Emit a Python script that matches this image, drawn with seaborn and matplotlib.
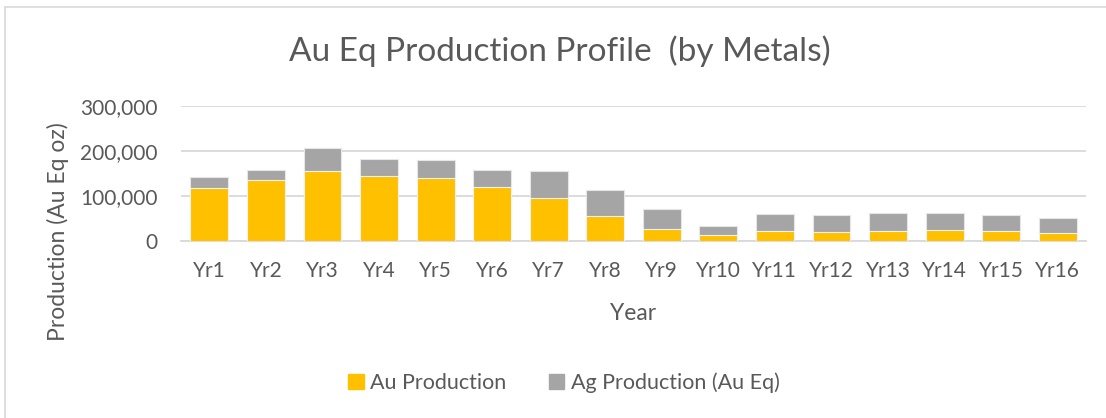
import matplotlib
matplotlib.use("Agg")
import matplotlib.pyplot as plt
import matplotlib.patches as mpatches
from matplotlib.lines import Line2D
from matplotlib.ticker import FuncFormatter
import pandas as pd
import seaborn as sns

# Data
years = ["Yr1", "Yr2", "Yr3", "Yr4", "Yr5", "Yr6", "Yr7", "Yr8",
         "Yr9", "Yr10", "Yr11", "Yr12", "Yr13", "Yr14", "Yr15", "Yr16"]
au_prod = [117500, 136000, 156000, 144000, 140000, 120000, 95000, 57000,
           27000, 14000, 22000, 21000, 23000, 24000, 22000, 18000]
ag_prod = [24500, 22000, 51000, 39000, 40000, 39000, 61000, 57000,
           45000, 20000, 39000, 37000, 39000, 39000, 36000, 33000]

gold = "#FFC000"
grey = "#A5A5A5"
text_col = "#595959"
grid_col = "#D9D9D9"

df = pd.DataFrame({"year": years, "au": au_prod, "ag": ag_prod})
df["total"] = df["au"] + df["ag"]

sns.set_style("white")
plt.rcParams["font.family"] = ["Lato", "DejaVu Sans"]

fig = plt.figure(figsize=(11.06, 4.18), dpi=100)
ax = fig.add_axes([0.1637, 0.4227, 0.8182, 0.3237])

# stacked bars: total in grey behind, Au in gold on top
sns.barplot(data=df, x="year", y="total", color=grey, width=0.67,
            edgecolor="#E6E6E6", linewidth=0.8, saturation=1, ax=ax, zorder=3)
sns.barplot(data=df, x="year", y="au", color=gold, width=0.67,
            edgecolor="#F2F2F2", linewidth=0.8, saturation=1, ax=ax, zorder=4)

ax.set_ylim(0, 300000)
ax.set_yticks([0, 100000, 200000, 300000])
ax.yaxis.set_major_formatter(FuncFormatter(lambda v, p: f"{int(v):,}"))
ax.set_xlim(-0.5, len(years) - 0.5)
ax.grid(axis="y", color=grid_col, linewidth=1.3, zorder=0)
ax.set_axisbelow(True)
for s in ["top", "right", "left"]:
    ax.spines[s].set_visible(False)
ax.spines["bottom"].set_color(grid_col)
ax.spines["bottom"].set_linewidth(1.3)
ax.tick_params(axis="both", length=0, labelsize=15, colors=text_col)
ax.tick_params(axis="y", pad=17)
ax.tick_params(axis="x", pad=14)

ax.set_xlabel("Year", fontsize=16.5, color=text_col, labelpad=16)
ax.set_ylabel("")
fig.text(0.0525, 0.445, "Production (Au Eq oz)", rotation=90, fontsize=16.5,
         color=text_col, ha="center", va="center")

fig.text(0.506, 1 - 61 / 418, "Au Eq Production Profile  (by Metals)",
         fontsize=24, color=text_col, ha="center", va="baseline")

handles = [mpatches.Patch(color=gold, label="Au Production"),
           mpatches.Patch(color=grey, label="Ag Production (Au Eq)")]
fig.legend(handles=handles, loc="center", bbox_to_anchor=(0.51, 0.084), ncol=2,
           frameon=False, fontsize=15.5, handlelength=0.7, handleheight=0.7,
           handletextpad=0.3, columnspacing=2.0, labelcolor=text_col)

# chart border (top and left visible in the reference)
fig.add_artist(Line2D([5 / 1106, 1.0], [1 - 7 / 418, 1 - 7 / 418],
                      color=grid_col, linewidth=1.2, transform=fig.transFigure))
fig.add_artist(Line2D([5 / 1106, 5 / 1106], [0.0, 1 - 7 / 418],
                      color=grid_col, linewidth=1.2, transform=fig.transFigure))

fig.savefig("out.png", dpi=100)
